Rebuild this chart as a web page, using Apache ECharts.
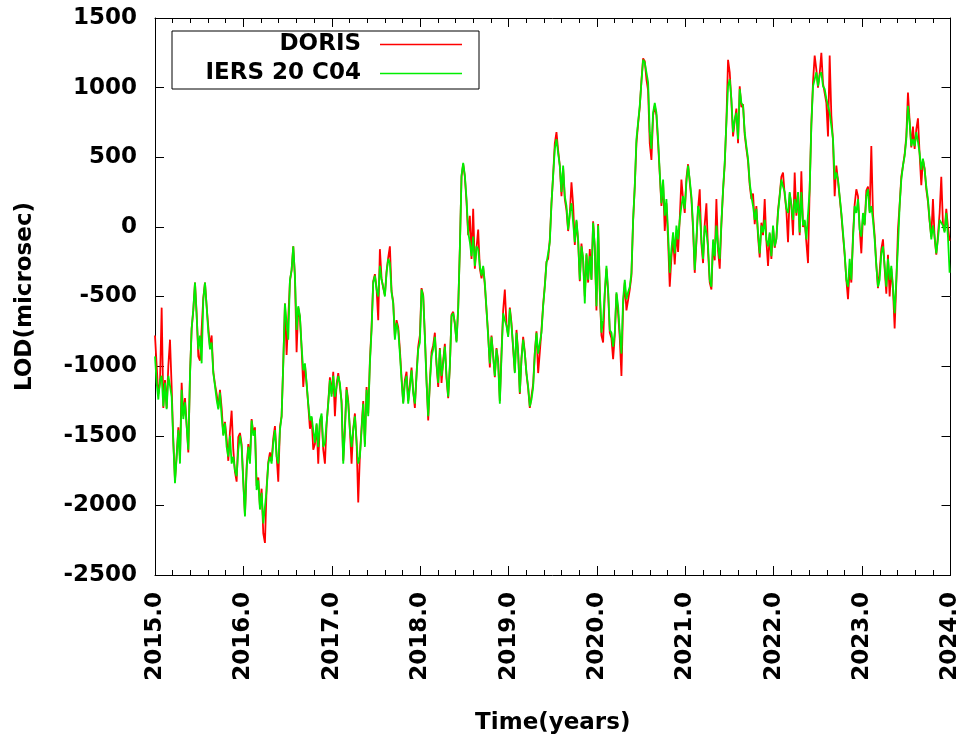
<!DOCTYPE html>
<html><head><meta charset="utf-8">
<script src="https://cdn.jsdelivr.net/npm/echarts@6/dist/echarts.min.js"></script>
<style>html,body{margin:0;padding:0;background:#fff}#c{width:962px;height:740px}</style>
</head><body><div id="c"></div>
<script>
// Sampling grid of the time series (decimal years)
const T_START = 2015.0;
const T_STEP = 0.018847;

const seriesNames = ['DORIS', 'IERS 20 C04'];
const xAxisName = 'Time(years)';
const yAxisName = 'LOD(microsec)';

// IERS 20 C04 LOD (microsec)
const iers = [
 -930,-1120,-1240,-1100,-1070,-1290,-1120,-1310,-1070,-1140,
 -1220,-1550,-1840,-1650,-1460,-1700,-1170,-1380,-1260,-1430,
 -1600,-1070,-730,-590,-400,-640,-880,-780,-980,-520,
 -400,-570,-760,-880,-830,-1050,-1140,-1240,-1310,-1190,
 -1360,-1500,-1410,-1580,-1650,-1500,-1700,-1650,-1750,-1790,
 -1600,
 -1500,-1580,-1840,-2080,-1750,-1580,-1700,-1390,-1500,-1460,
 -1890,-1820,-2030,-1910,-2130,-2130,-1890,-1700,-1650,-1700,
 -1550,-1460,-1650,-1700,-1460,-1360,-980,-550,-690,-810,
 -380,-310,-140,-350,-740,-570,-640,-860,-1030,-980,
 -1120,-1270,-1390,-1360,-1460,-1550,-1410,-1580,-1390,-1340,
 -1580,-1550,-1410,-1270,
 -1100,-1220,-1070,-1220,-1150,-1070,-1120,-1270,-1700,-1460,
 -1170,-1270,-1460,-1580,-1460,-1360,-1550,-1700,-1650,-1460,
 -1270,-1580,-1170,-1360,-980,-740,-400,-350,-450,-500,
 -280,-380,-430,-500,-330,-230,-260,-470,-550,-810,
 -690,-740,-910,-1100,-1270,-1120,-1070,-1270,-1150,-1030,
 -1190,
 -1270,-1070,-880,-830,-450,-500,-790,-1120,-1360,-1120,
 -930,-880,-790,-980,-1120,-880,-1070,-980,-860,-1070,
 -1220,-1000,-640,-620,-690,-830,-590,-160,370,460,
 370,200,-40,-110,-210,-70,-280,-140,-160,-280,
 -350,-280,-400,-590,-790,-980,-790,-930,-1070,-880,
 -980,-1270,-930,-620,
 -670,-710,-790,-590,-710,-860,-1050,-760,-910,-1190,
 -950,-810,-910,-1050,-1150,-1290,-1240,-1150,-910,-760,
 -910,-910,-760,-570,-430,-260,-190,-110,170,370,
 560,630,530,440,250,440,220,150,-20,100,
 170,170,-110,50,-90,-380,-140,-230,-550,-190,
 -380,
 -210,-380,30,-140,-570,10,-450,-760,-670,-470,
 -280,-450,-740,-760,-860,-760,-470,-570,-760,-910,
 -520,-380,-520,-470,-430,-330,50,290,630,750,
 870,1040,1200,1180,1110,1040,680,560,820,890,
 820,630,390,170,340,80,200,-40,-330,-160,
 -40,-190,10,-90,
 50,150,220,130,320,440,340,220,10,-310,
 -90,150,100,-90,-230,10,-40,-140,-380,-430,
 -90,-210,10,-140,-230,30,270,460,750,1010,
 1060,920,680,770,820,630,990,890,870,680,
 580,490,320,220,150,50,130,-40,-190,10,
 -40,
 50,-90,-140,-40,-210,10,-140,-90,100,220,
 340,290,250,130,100,250,150,50,200,100,
 250,-40,250,10,50,-90,-90,270,730,1010,
 1010,1110,1010,1090,1110,1010,990,920,870,820,
 820,630,340,390,340,220,100,-40,-190,-380,
 -430,
 -230,-380,-90,150,100,200,-20,-70,100,10,
 220,270,100,150,50,-90,-280,-430,-380,-190,
 -140,-280,-430,-230,-380,-280,-430,-620,-380,-140,
 150,340,440,510,630,870,750,580,630,580,
 680,610,530,410,490,410,290,200,50,-90,
 10,-70,-190,-90,50,50,10,-40,100,-70,
 -330
];

// DORIS LOD (microsec)
const doris = [
 -780,-1000,-1200,-1120,-580,-1300,-1100,-1300,-1000,-810,
 -1150,-1540,-1820,-1640,-1440,-1660,-1120,-1360,-1230,-1420,
 -1620,-1060,-730,-600,-400,-620,-930,-960,-960,-510,
 -400,-570,-720,-860,-780,-1040,-1130,-1200,-1300,-1170,
 -1300,-1490,-1400,-1520,-1680,-1470,-1320,-1600,-1760,-1830,
 -1510,
 -1480,-1560,-1820,-2070,-1720,-1560,-1680,-1380,-1480,-1440,
 -1860,-1800,-2010,-1880,-2200,-2270,-1870,-1690,-1620,-1680,
 -1520,-1430,-1640,-1830,-1440,-1360,-980,-550,-920,-930,
 -390,-310,-140,-360,-900,-580,-650,-870,-1150,-990,
 -1130,-1280,-1450,-1370,-1600,-1560,-1420,-1700,-1400,-1360,
 -1600,-1700,-1420,-1260,
 -1080,-1200,-1040,-1360,-1130,-1050,-1050,-1250,-1680,-1440,
 -1150,-1250,-1460,-1700,-1450,-1340,-1540,-1980,-1640,-1440,
 -1250,-1560,-1150,-1340,-960,-720,-390,-340,-440,-670,
 -160,-370,-440,-490,-320,-220,-140,-460,-540,-790,
 -670,-720,-880,-1080,-1260,-1100,-1040,-1250,-1130,-1010,
 -1180,
 -1300,-1050,-860,-780,-440,-490,-780,-1100,-1390,-1110,
 -900,-850,-760,-990,-1150,-870,-1120,-960,-840,-1090,
 -1230,-1000,-630,-610,-700,-820,-580,-150,360,450,
 360,180,-60,80,-230,130,-300,-150,-20,-300,
 -370,-290,-420,-600,-770,-1010,-780,-920,-1080,-870,
 -960,-1250,-900,-600,
 -450,-700,-780,-580,-690,-880,-1040,-740,-900,-1200,
 -940,-790,-900,-1060,-1160,-1300,-1310,-1130,-900,-750,
 -1050,-900,-740,-560,-420,-250,-230,-90,170,370,
 600,680,550,440,220,420,200,120,-30,90,
 320,160,-130,40,-100,-390,-120,-240,-500,-200,
 -400,
 -160,-380,40,-150,-600,20,-470,-780,-830,-480,
 -300,-470,-760,-800,-950,-780,-480,-620,-800,-1070,
 -560,-400,-600,-590,-450,-350,40,290,600,740,
 860,1050,1210,1190,1060,980,600,480,800,870,
 800,600,380,150,320,-30,170,-100,-430,-220,
 -80,-270,-40,-180,
 60,340,200,100,350,450,320,200,-20,-330,
 -110,130,270,-120,-260,20,170,-180,-400,-450,
 -110,-240,200,-170,-300,20,260,450,760,1200,
 1110,900,650,760,850,600,1010,860,880,660,
 560,470,300,200,240,20,150,-70,-220,30,
 -60,
 200,-100,-280,-50,-230,0,-150,-80,120,230,
 360,390,230,120,-110,240,160,-60,390,80,
 240,-60,400,0,40,-110,-260,280,740,1040,
 1230,1130,1000,1100,1250,1030,960,890,650,1230,
 800,620,220,440,330,210,90,-60,-200,-380,
 -520,
 -300,-400,-60,160,270,220,-10,-190,80,20,
 260,290,110,580,90,-60,-270,-440,-320,-160,
 -90,-300,-480,-200,-500,-300,-450,-730,-400,-20,
 160,360,440,520,650,965,760,570,720,560,
 700,780,520,300,480,420,270,180,40,-70,
 200,-80,-200,-60,100,360,20,-30,130,0,
 -100
];

const X_MIN = 2015, X_MAX = 2024, X_INT = 1;
const Y_MIN = -2500, Y_MAX = 1500, Y_INT = 500;

const FONT = 'DejaVu Sans';
const txt = {fontFamily: FONT, fontWeight: 'bold', fontSize: 23, color: '#000'};
const toPairs = arr => arr.map((v, i) => [T_START + i * T_STEP, v]);

const RED = '#ff0000', GREEN = '#00ee00';

const chart = echarts.init(document.getElementById('c'), null, {renderer: 'canvas'});
const lineAx = {show: true, onZero: false, lineStyle: {color: '#000', width: 1}};
const tickAx = {show: true, inside: true, length: 9, lineStyle: {color: '#000', width: 1}};

chart.setOption({
  animation: false,
  backgroundColor: '#fff',
  grid: {left: 155, right: 11, top: 18, bottom: 165},
  xAxis: [{
    type: 'value', min: X_MIN, max: X_MAX, interval: X_INT, position: 'bottom',
    axisLine: lineAx, axisTick: tickAx,
    minorTick: {show: true, splitNumber: 5, length: 5, lineStyle: {color: '#000', width: 1}},
    splitLine: {show: false},
    axisLabel: Object.assign({rotate: 90, margin: 17, formatter: v => v.toFixed(1)}, txt),
    name: xAxisName, nameLocation: 'middle', nameGap: 137,
    nameTextStyle: txt
  }, {
    type: 'value', min: X_MIN, max: X_MAX, interval: X_INT, position: 'top',
    axisLine: lineAx, axisTick: tickAx,
    minorTick: {show: true, splitNumber: 5, length: 5, lineStyle: {color: '#000', width: 1}},
    splitLine: {show: false}, axisLabel: {show: false}
  }],
  yAxis: [{
    type: 'value', min: Y_MIN, max: Y_MAX, interval: Y_INT, position: 'left',
    axisLine: lineAx, axisTick: tickAx, splitLine: {show: false},
    axisLabel: Object.assign({margin: 18, formatter: v => String(v)}, txt),
    name: yAxisName, nameLocation: 'middle', nameGap: 118, nameRotate: 90,
    nameTextStyle: txt
  }, {
    type: 'value', min: Y_MIN, max: Y_MAX, interval: Y_INT, position: 'right',
    axisLine: lineAx, axisTick: tickAx, splitLine: {show: false}, axisLabel: {show: false}
  }],
  legend: [{
    data: [{name: seriesNames[0], icon: 'rect', itemStyle: {color: RED}}],
    right: 500, top: 33, align: 'right', padding: 0,
    itemWidth: 82, itemHeight: 1.5, selectedMode: false,
    textStyle: Object.assign({padding: [0, 14, 0, 0]}, txt)
  }, {
    data: [{name: seriesNames[1], icon: 'rect', itemStyle: {color: GREEN}}],
    right: 500, top: 62, align: 'right', padding: 0,
    itemWidth: 82, itemHeight: 1.5, selectedMode: false,
    textStyle: Object.assign({padding: [0, 14, 0, 0]}, txt)
  }],
  graphic: [{
    type: 'rect', shape: {x: 172, y: 31, width: 307, height: 58},
    style: {fill: 'none', stroke: '#000', lineWidth: 1}, z: 100, silent: true
  }],
  series: [{
    name: seriesNames[0], type: 'line', xAxisIndex: 0, yAxisIndex: 0,
    data: toPairs(doris), symbol: 'none', showSymbol: false,
    lineStyle: {color: RED, width: 1.8}, itemStyle: {color: RED}, z: 2
  }, {
    name: seriesNames[1], type: 'line', xAxisIndex: 0, yAxisIndex: 0,
    data: toPairs(iers), symbol: 'none', showSymbol: false,
    lineStyle: {color: GREEN, width: 1.8}, itemStyle: {color: GREEN}, z: 3
  }]
});
</script>
</body></html>
